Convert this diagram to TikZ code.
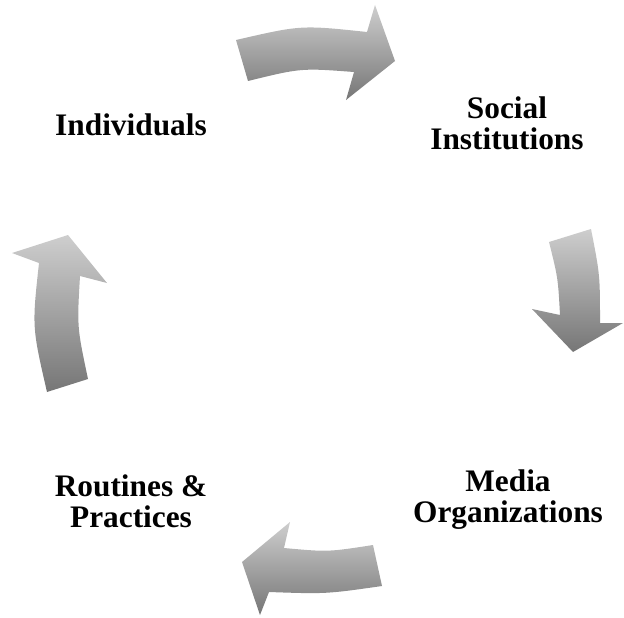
\documentclass[tikz,border=0pt]{standalone}
\usepackage{fontspec}
\setmainfont{Liberation Serif}
\definecolor{arrlight}{RGB}{206,206,206}
\definecolor{arrdark}{RGB}{118,118,118}
\begin{document}
\begin{tikzpicture}[x=0.75pt,y=-0.75pt,
  cyclearrow/.style={top color=arrlight,bottom color=arrdark,draw=none},
  label/.style={font=\fontsize{23.5}{23.3}\selectfont\bfseries,align=center,inner sep=0pt}]
\useasboundingbox (0,0) rectangle (624,617);
% top arrow
\path[cyclearrow] (236,40) .. controls (301,25) .. (367,32) -- (375,5) -- (395,61)
  -- (346,100) -- (354,72) .. controls (301,68) .. (248,81) -- cycle;
% right arrow
\path[cyclearrow] (549,242) -- (591,229) .. controls (600,275) .. (600,323) -- (623,323)
  -- (573,352) -- (532,309) -- (560,315) .. controls (558,278) .. cycle;
% bottom arrow
\path[cyclearrow] (373,545) .. controls (328,552) .. (284,548) -- (290,522) -- (242,562)
  -- (260,615) -- (269,592) .. controls (326,594) .. (382,586) -- cycle;
% left arrow
\path[cyclearrow] (47,392) .. controls (32,327) .. (39,263) -- (12,253) -- (68,235)
  -- (107,283) -- (80,276) .. controls (77,327) .. (88,379) -- cycle;
% labels
\node[label] (ind) at (131,125) {Individuals};
\node[label] (soc) at (507,123) {Social\\Institutions};
\node[label] (med) at (508,500) {Media\\Organizations};
\node[label] (rou) at (131,501) {Routines \&\\Practices};
\end{tikzpicture}
\end{document}
